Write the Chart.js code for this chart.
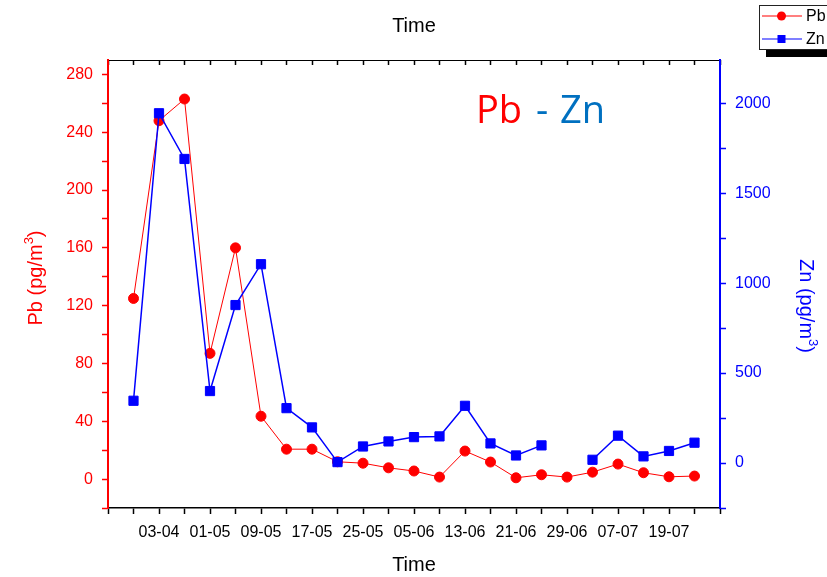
<!DOCTYPE html>
<html>
<head>
<meta charset="utf-8">
<script src="https://cdn.jsdelivr.net/npm/chart.js@4/dist/chart.umd.min.js"></script>
<style>
  html, body { margin: 0; padding: 0; background: #fff; }
</style>
</head>
<body>
<canvas id="chart" width="827" height="577"></canvas>
<script>
// sampling dates, only every other one is labelled on the axis
const tickLabels = ['', '03-04', '', '01-05', '', '09-05', '', '17-05', '', '25-05', '', '05-06',
  '', '13-06', '', '21-06', '', '29-06', '', '07-07', '', '19-07', ''];
const pbValues = [125, 248, 263, 87, 160, 43.5, 20.7, 20.7, 12, 11, 7.8, 5.6,
  1.4, 19.4, 11.8, 0.9, 3, 1.4, 4.8, 10.4, 4.4, 1.6, 2.1];
const znValues = [346, 1944, 1690, 400, 878, 1105, 305, 198, 5, 92, 120, 144,
  148, 318, 109, 42, 98, null, 18, 152, 37, 67, 113];
const pbRange = [-20, 290];
const znRange = [-250, 2240];
const pbTicks = [-20, 0, 20, 40, 60, 80, 100, 120, 140, 160, 180, 200, 220, 240, 260, 280];
const znTicks = [-250, 0, 250, 500, 750, 1000, 1250, 1500, 1750, 2000];

const RED = '#ff0000';
const BLUE = '#0000ff';

Chart.defaults.font.family = "'Liberation Sans', Arial, sans-serif";
Chart.defaults.color = '#000';

const toPoints = (values) => values.map((v, i) => ({ x: i, y: v }));
const xTicks = [-1, ...tickLabels.map((_, i) => i), tickLabels.length];

const drawAxisTitle = (ctx, text, x, y, rotation, color) => {
  ctx.save();
  ctx.translate(x, y);
  ctx.rotate(rotation);
  ctx.fillStyle = color;
  ctx.textBaseline = 'middle';
  ctx.textAlign = 'left';
  const big = "20px 'Liberation Sans', Arial, sans-serif";
  const small = "13px 'Liberation Sans', Arial, sans-serif";
  ctx.font = big;
  const w1 = ctx.measureText(text).width;
  const w3 = ctx.measureText(')').width;
  ctx.font = small;
  const w2 = ctx.measureText('3').width;
  let pos = -(w1 + w2 + w3) / 2;
  ctx.font = big;
  ctx.fillText(text, pos, 0);
  pos += w1;
  ctx.font = small;
  ctx.fillText('3', pos, -7);
  pos += w2;
  ctx.font = big;
  ctx.fillText(')', pos, 0);
  ctx.restore();
};

const extras = {
  id: 'extras',
  afterDraw(chart) {
    const { ctx, chartArea: area } = chart;
    const midY = (area.top + area.bottom) / 2;
    drawAxisTitle(ctx, 'Pb (pg/m', area.left - 72, midY - 6, -Math.PI / 2, RED);
    drawAxisTitle(ctx, 'Zn (pg/m', area.right + 86, midY + 22, Math.PI / 2, BLUE);

    // big label inside the plot
    ctx.save();
    ctx.font = "38px 'Open Sans', 'Noto Sans', sans-serif";
    ctx.textBaseline = 'alphabetic';
    ctx.textAlign = 'left';
    ctx.fillStyle = RED;
    ctx.fillText('Pb', area.left + 368, area.top + 63);
    ctx.fillStyle = '#0070c0';
    ctx.fillText('-', area.left + 428, area.top + 63);
    ctx.fillText('Zn', area.left + 452, area.top + 63);
    ctx.restore();

    // legend box with shadow, top right
    ctx.save();
    ctx.fillStyle = '#000';
    ctx.fillRect(766, 50, 70, 7);
    ctx.fillStyle = '#fff';
    ctx.fillRect(759, 5, 80, 45);
    ctx.strokeStyle = '#222';
    ctx.lineWidth = 1;
    ctx.strokeRect(759.5, 5.5, 80, 44);
    const rows = [
      { label: 'Pb', color: RED, style: 'circle', y: 16 },
      { label: 'Zn', color: BLUE, style: 'rect', y: 39 },
    ];
    rows.forEach((row) => {
      ctx.strokeStyle = row.color;
      ctx.lineWidth = 1.2;
      ctx.beginPath();
      ctx.moveTo(762, row.y);
      ctx.lineTo(802, row.y);
      ctx.stroke();
      ctx.fillStyle = row.color;
      if (row.style === 'circle') {
        ctx.beginPath();
        ctx.arc(781.5, row.y, 4.5, 0, Math.PI * 2);
        ctx.fill();
      } else {
        ctx.fillRect(777.5, row.y - 4, 8, 8);
      }
      ctx.fillStyle = '#000';
      ctx.font = "16px 'Liberation Sans', Arial, sans-serif";
      ctx.textBaseline = 'middle';
      ctx.fillText(row.label, 806, row.y + 1);
    });
    ctx.restore();
  },
};

const setTicks = (list) => (scale) => {
  scale.ticks = list.map((value) => ({ value }));
};

const canvas = document.querySelector('#chart');

const chart = new Chart(canvas, {
  type: 'line',
  data: {
    datasets: [{
      label: 'Zn',
      data: toPoints(znValues),
      xAxisID: 'x',
      yAxisID: 'yZn',
      borderColor: BLUE,
      backgroundColor: BLUE,
      borderWidth: 1.5,
      pointStyle: 'rect',
      pointRadius: 6.5,
      pointBorderWidth: 1,
      pointBorderColor: BLUE,
      pointBackgroundColor: BLUE,
      spanGaps: false,
      order: 0,
    }, {
      label: 'Pb',
      data: toPoints(pbValues),
      xAxisID: 'x',
      yAxisID: 'yPb',
      borderColor: RED,
      backgroundColor: RED,
      borderWidth: 1,
      pointStyle: 'circle',
      pointRadius: 5,
      pointBorderWidth: 1,
      pointBorderColor: RED,
      pointBackgroundColor: RED,
      order: 1,
    }],
  },
  options: {
    responsive: false,
    animation: false,
    devicePixelRatio: 1,
    layout: { padding: 0 },
    plugins: {
      legend: { display: false },
      title: { display: false },
      tooltip: { enabled: false },
    },
    scales: {
      x: {
        type: 'linear',
        position: 'bottom',
        min: -1,
        max: tickLabels.length,
        afterBuildTicks: setTicks(xTicks),
        ticks: {
          autoSkip: false,
          maxRotation: 0,
          color: '#000',
          font: { size: 16 },
          padding: 9,
          callback: (v) => tickLabels[v] ?? '',
        },
        grid: { drawOnChartArea: false, tickLength: 6, tickColor: '#000', tickWidth: 1.5 },
        border: { color: '#000', width: 1.5 },
        title: { display: true, text: 'Time', color: '#000', font: { size: 20 }, padding: { top: 0, bottom: 0 } },
        afterFit: (s) => { s.height = 69; },
      },
      xTop: {
        type: 'linear',
        position: 'top',
        min: -1,
        max: tickLabels.length,
        afterBuildTicks: setTicks(xTicks),
        ticks: { display: false, autoSkip: false },
        grid: { drawOnChartArea: false, tickLength: -5, tickColor: '#000', tickWidth: 1.5 },
        border: { color: '#000', width: 1 },
        title: { display: true, text: 'Time', color: '#000', font: { size: 20 }, padding: { top: 14, bottom: 0 } },
        afterFit: (s) => { s.height = 60; },
      },
      yPb: {
        type: 'linear',
        position: 'left',
        min: pbRange[0],
        max: pbRange[1],
        afterBuildTicks: setTicks(pbTicks),
        ticks: {
          autoSkip: false,
          color: RED,
          font: { size: 16 },
          padding: 9,
          callback: (v) => (v % 40 === 0 ? v : ''),
        },
        grid: { drawOnChartArea: false, tickLength: 6, tickColor: RED, tickWidth: 1.5 },
        border: { color: RED, width: 2 },
        afterFit: (s) => { s.width = 108; },
      },
      yZn: {
        type: 'linear',
        position: 'right',
        min: znRange[0],
        max: znRange[1],
        afterBuildTicks: setTicks(znTicks),
        ticks: {
          autoSkip: false,
          color: BLUE,
          font: { size: 16 },
          padding: 9,
          callback: (v) => (v % 500 === 0 ? v : ''),
        },
        grid: { drawOnChartArea: false, tickLength: 6, tickColor: BLUE, tickWidth: 1.5 },
        border: { color: BLUE, width: 2 },
        afterFit: (s) => { s.width = 107; },
      },
    },
  },
  plugins: [extras],
});
</script>
</body>
</html>
